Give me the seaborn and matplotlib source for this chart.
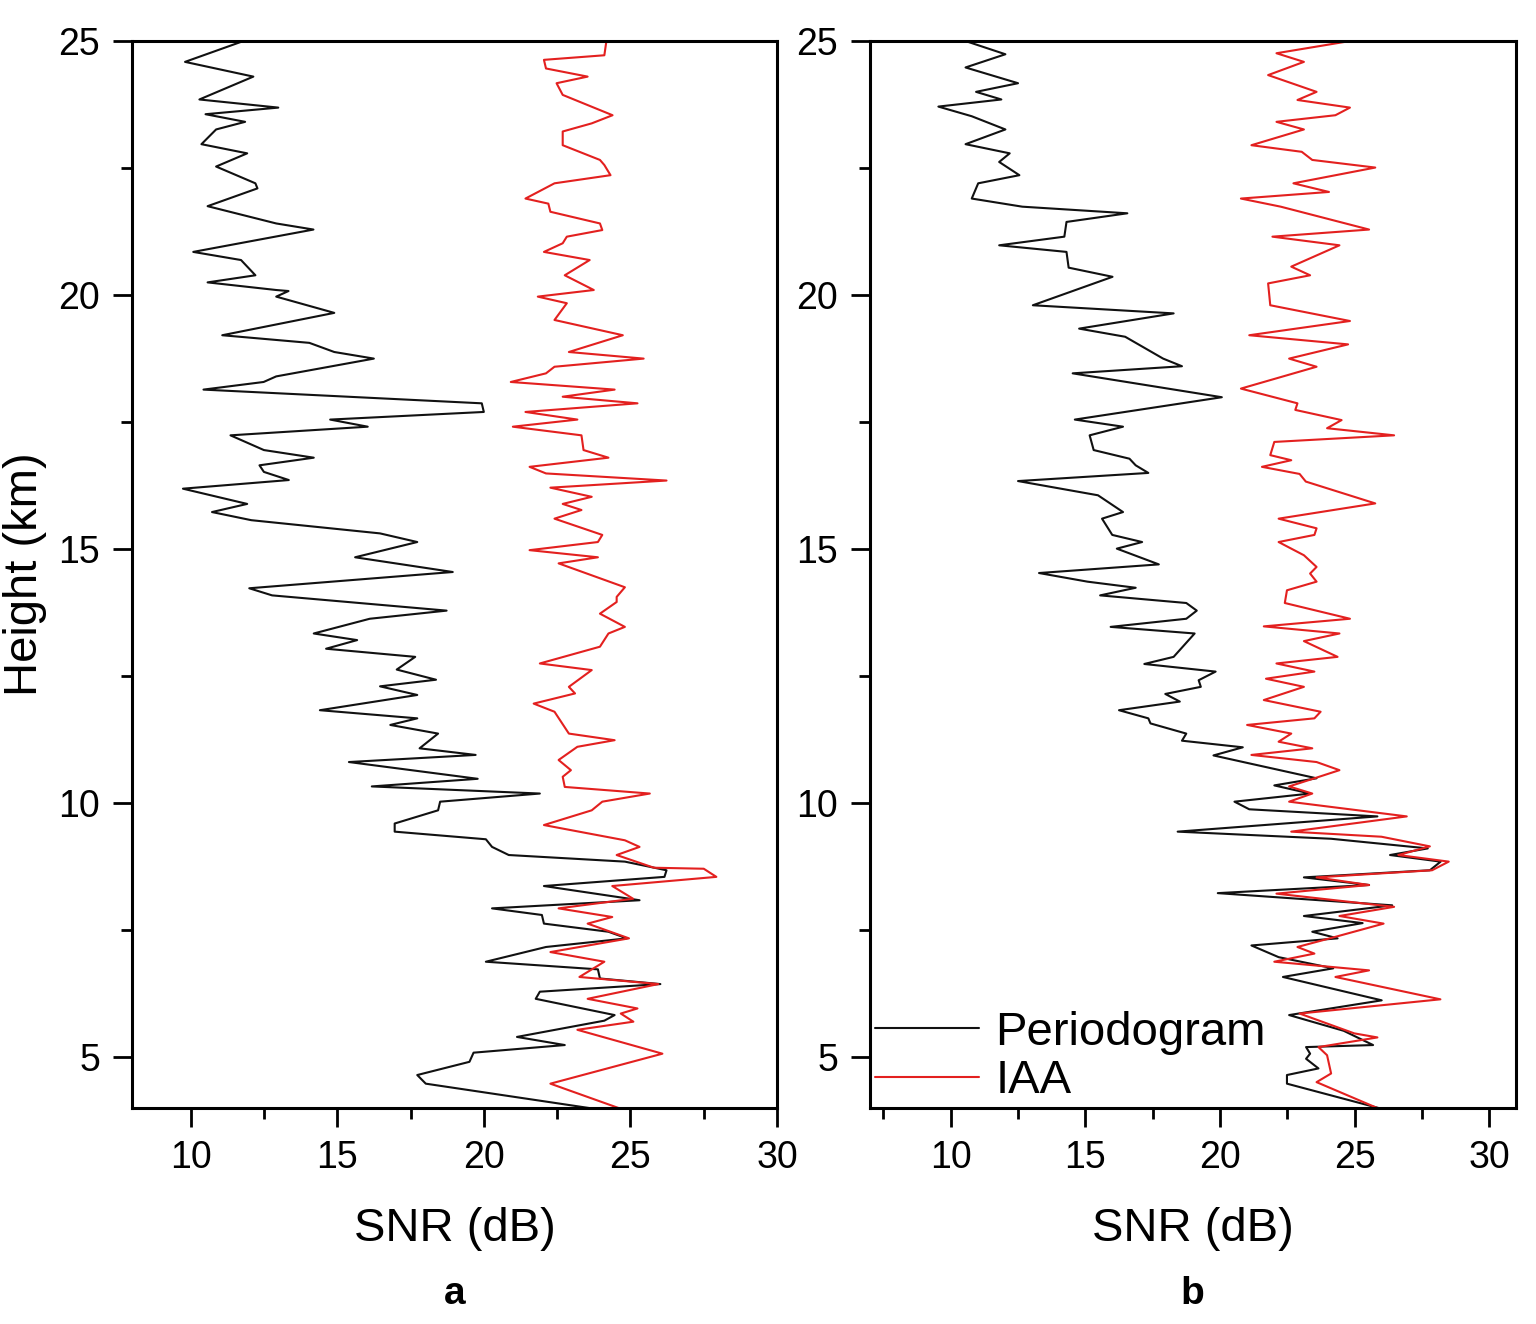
import matplotlib
matplotlib.use("Agg")
import matplotlib.pyplot as plt
from matplotlib.ticker import MultipleLocator
import pandas as pd
import seaborn as sns

# panel a, periodogram (height km, SNR dB)
a_per_h = [25.0, 24.59, 24.30, 23.85, 23.69, 23.56, 23.41, 23.26, 22.97, 22.79, 22.53, 22.20, 22.10,
           21.75, 21.41, 21.29, 20.85, 20.69, 20.39, 20.25, 20.10, 20.08, 19.97, 19.65, 19.21, 19.06,
           18.88, 18.75, 18.40, 18.29, 18.14, 17.87, 17.70, 17.55, 17.41, 17.24, 16.95, 16.80, 16.65,
           16.52, 16.36, 16.19, 15.89, 15.73, 15.57, 15.31, 15.14, 14.84, 14.55, 14.23, 14.09, 13.79,
           13.63, 13.34, 13.21, 13.04, 12.88, 12.63, 12.43, 12.30, 12.13, 11.83, 11.67, 11.54, 11.37,
           11.08, 10.95, 10.81, 10.48, 10.33, 10.19, 10.03, 9.86, 9.60, 9.44, 9.29, 9.14, 8.98, 8.85,
           8.68, 8.55, 8.37, 8.09, 7.93, 7.80, 7.63, 7.47, 7.34, 7.17, 6.88, 6.73, 6.55, 6.44, 6.29,
           6.15, 5.83, 5.72, 5.40, 5.24, 5.09, 4.91, 4.65, 4.48, 4.0]
a_per_snr = [11.8, 9.81, 12.14, 10.30, 12.99, 10.51, 11.86, 10.87, 10.37, 11.93, 10.87, 12.21, 12.28,
             10.58, 12.92, 14.19, 10.09, 11.72, 12.21, 10.58, 12.92, 13.34, 12.92, 14.90, 11.08, 14.05,
             14.90, 16.25, 12.92, 12.49, 10.44, 19.93, 20.0, 14.76, 16.04, 11.36, 12.50, 14.20, 12.35,
             12.50, 13.35, 9.74, 11.93, 10.73, 12.07, 16.46, 17.73, 15.61, 18.94, 12.0, 12.78, 18.73,
             16.11, 14.2, 15.68, 14.62, 17.66, 17.03, 18.37, 16.46, 17.73, 14.41, 17.73, 16.81, 18.44,
             17.81, 19.72, 15.4, 19.79, 16.18, 21.91, 18.51, 18.44, 16.96, 16.96, 20.07, 20.28, 20.85, 24.81,
             26.23, 26.16, 22.05, 25.31, 20.28, 21.98, 22.05, 24.25, 24.88, 22.12, 20.07, 23.89, 23.96, 26.02,
             21.91, 21.77, 24.46, 24.11, 21.13, 22.76, 19.65, 19.51, 17.73, 18.02, 23.6]

# panel a, IAA
a_iaa_h = [25.0, 24.72, 24.63, 24.46, 24.30, 24.17, 23.94, 23.54, 23.38, 23.22, 22.95, 22.66, 22.56,
           22.36, 22.20, 21.90, 21.80, 21.64, 21.41, 21.28, 21.15, 21.02, 20.85, 20.69, 20.39, 20.10,
           19.97, 19.84, 19.51, 19.21, 18.88, 18.75, 18.59, 18.46, 18.29, 18.14, 18.0, 17.87, 17.70,
           17.55, 17.41, 17.24, 16.95, 16.80, 16.62, 16.49, 16.35, 16.21, 16.03, 15.89, 15.77, 15.60,
           15.28, 15.14, 14.98, 14.84, 14.72, 14.25, 14.06, 13.96, 13.73, 13.47, 13.34, 13.08, 12.75,
           12.62, 12.29, 12.16, 11.96, 11.80, 11.37, 11.24, 11.11, 10.85, 10.65, 10.52, 10.32, 10.19,
           10.03, 9.86, 9.57, 9.27, 9.14, 8.98, 8.73, 8.71, 8.55, 8.37, 8.12, 7.93, 7.76, 7.63, 7.34,
           7.07, 6.88, 6.58, 6.44, 6.15, 5.96, 5.86, 5.70, 5.54, 5.07, 4.48, 4.0]
a_iaa_snr = [24.18, 24.11, 22.05, 22.12, 23.54, 22.48, 22.69, 24.39, 23.68, 22.69, 22.69, 23.96, 24.11,
             24.32, 22.41, 21.42, 22.20, 22.27, 23.96, 24.04, 22.83, 22.69, 22.05, 23.61, 22.76, 23.75,
             21.84, 22.83, 22.41, 24.74, 22.90, 25.45, 22.41, 22.12, 20.92, 24.46, 22.69, 25.24, 21.42,
             23.19, 20.99, 23.33, 23.40, 24.25, 21.56, 22.12, 26.23, 22.27, 23.68, 22.69, 23.33, 22.41,
             24.04, 23.89, 21.56, 23.89, 22.55, 24.81, 24.53, 24.53, 23.96, 24.81, 24.25, 23.96, 21.91,
             23.68, 22.90, 23.11, 21.70, 22.41, 22.90, 24.46, 23.19, 22.55, 22.97, 22.69, 22.76, 25.66,
             24.04, 23.68, 22.05, 24.81, 25.31, 24.53, 25.80, 27.50, 27.93, 24.38, 25.09, 22.55, 24.38,
             23.54, 24.95, 22.27, 24.11, 23.26, 25.95, 23.54, 25.24, 24.67, 25.10, 23.19, 26.09, 22.27, 24.6]

# panel b, periodogram
b_per_h = [25.0, 24.74, 24.48, 24.17, 24.00, 23.85, 23.71, 23.52, 23.26, 22.97, 22.79, 22.62, 22.36,
           22.20, 21.90, 21.74, 21.61, 21.44, 21.15, 20.98, 20.85, 20.54, 20.36, 19.80, 19.64, 19.34,
           19.18, 18.75, 18.60, 18.46, 17.99, 17.55, 17.41, 17.24, 16.95, 16.78, 16.65, 16.50, 16.34,
           16.06, 15.73, 15.60, 15.28, 15.14, 15.01, 14.70, 14.53, 14.36, 14.24, 14.09, 13.94, 13.79,
           13.63, 13.47, 13.34, 12.88, 12.74, 12.59, 12.42, 12.29, 12.15, 12.0, 11.83, 11.67, 11.57,
           11.37, 11.23, 11.10, 10.94, 10.49, 10.35, 10.19, 10.03, 9.88, 9.74, 9.44, 9.30, 9.11, 8.98,
           8.85, 8.68, 8.54, 8.39, 8.23, 7.99, 7.78, 7.64, 7.47, 7.34, 7.20, 6.97, 6.75, 6.58, 6.12,
           5.83, 5.52, 5.24, 5.20, 5.07, 4.97, 4.78, 4.65, 4.48, 4.0]
b_per_snr = [10.55, 12.03, 10.55, 12.50, 10.94, 11.88, 9.54, 10.78, 12.03, 10.55, 12.19, 11.80, 12.55,
             11.02, 10.78, 12.66, 16.56, 14.30, 14.22, 11.80, 14.30, 14.38, 16.01, 13.05, 18.28, 14.77,
             16.48, 17.89, 18.59, 14.53, 20.07, 14.61, 16.40, 15.16, 15.31, 16.64, 16.87, 17.34, 12.50,
             15.47, 16.40, 15.62, 16.0, 17.11, 16.17, 17.73, 13.28, 15.08, 16.87, 15.55, 18.75, 19.14,
             18.75, 15.94, 19.06, 18.28, 17.19, 19.84, 19.21, 19.29, 17.97, 18.51, 16.25, 17.34, 17.42,
             18.75, 18.59, 20.85, 19.76, 23.59, 22.02, 23.35, 20.54, 21.09, 25.85, 18.43, 24.13, 27.72, 26.32,
             28.2, 27.80, 23.12, 25.54, 19.92, 26.40, 23.12, 25.30, 23.43, 24.37, 21.17, 22.18, 24.21, 22.34,
             26.01, 22.57, 24.60, 25.69, 23.20, 23.35, 23.20, 23.66, 22.49, 22.49, 25.9]

# panel b, IAA
b_iaa_h = [25.0, 24.76, 24.59, 24.33, 24.00, 23.84, 23.69, 23.54, 23.41, 23.26, 22.95, 22.82, 22.66,
           22.51, 22.20, 22.03, 21.90, 21.74, 21.29, 21.15, 20.98, 20.56, 20.39, 20.23, 19.80, 19.49,
           19.21, 19.03, 18.75, 18.59, 18.16, 17.87, 17.74, 17.54, 17.38, 17.24, 17.11, 16.85, 16.75,
           16.62, 16.48, 16.33, 15.90, 15.60, 15.41, 15.28, 15.14, 14.88, 14.65, 14.52, 14.36, 14.19,
           13.94, 13.63, 13.48, 13.34, 13.19, 12.88, 12.75, 12.59, 12.45, 12.29, 12.03, 11.80, 11.67,
           11.54, 11.37, 11.21, 11.08, 10.95, 10.81, 10.65, 10.49, 10.33, 10.19, 10.03, 9.74, 9.44,
           9.34, 9.15, 8.98, 8.85, 8.68, 8.54, 8.39, 8.22, 7.96, 7.78, 7.63, 7.37, 7.17, 7.04, 6.88,
           6.71, 6.58, 6.14, 5.86, 5.47, 5.39, 5.20, 5.04, 4.68, 4.51, 4.0]
b_iaa_snr = [24.83, 22.10, 23.12, 21.79, 23.59, 22.88, 24.83, 24.29, 22.10, 23.12, 21.17, 23.04, 23.43,
             25.77, 22.73, 24.05, 20.78, 22.26, 25.54, 21.95, 24.44, 22.65, 23.35, 21.79, 21.87, 24.83,
             21.09, 24.76, 22.57, 23.59, 20.78, 22.88, 22.80, 24.52, 23.98, 26.47, 22.02, 21.87, 22.65,
             21.56, 22.96, 23.19, 25.77, 22.18, 23.59, 23.51, 22.18, 23.12, 23.59, 23.35, 23.59, 22.49,
             22.41, 24.83, 21.63, 24.44, 23.12, 24.37, 22.10, 23.51, 21.71, 23.12, 21.63, 23.74, 23.51,
             21.01, 22.65, 22.18, 23.43, 21.17, 23.59, 24.44, 23.51, 22.57, 23.43, 22.57, 26.94, 22.65,
             26.0, 27.80, 26.63, 28.50, 27.88, 23.59, 25.54, 22.10, 26.47, 24.44, 26.08, 24.29, 22.88, 23.51,
             22.02, 25.54, 24.29, 28.19, 22.96, 24.99, 25.85, 23.66, 23.98, 24.13, 23.59, 25.85]

methods = ["Periodogram", "IAA"]
colors = {"Periodogram": "#111111", "IAA": "#e3201f"}


def make_df(per_h, per_snr, iaa_h, iaa_snr):
    d1 = pd.DataFrame({"height": per_h, "snr": per_snr, "method": "Periodogram"})
    d2 = pd.DataFrame({"height": iaa_h, "snr": iaa_snr, "method": "IAA"})
    return pd.concat([d1, d2], ignore_index=True)


sns.set_theme(style="ticks")
plt.rcParams["font.family"] = ["Liberation Sans", "DejaVu Sans"]
plt.rcParams["text.color"] = "black"
plt.rcParams["axes.labelcolor"] = "black"
plt.rcParams["xtick.color"] = "black"
plt.rcParams["ytick.color"] = "black"
plt.rcParams["axes.edgecolor"] = "black"

fig = plt.figure(figsize=(15.36, 13.24), dpi=100)
ax_a = fig.add_axes([0.0859, 0.1631, 0.4200, 0.8059])
ax_b = fig.add_axes([0.5664, 0.1631, 0.4206, 0.8059])

panels = [
    (ax_a, make_df(a_per_h, a_per_snr, a_iaa_h, a_iaa_snr), (8, 30), "a"),
    (ax_b, make_df(b_per_h, b_per_snr, b_iaa_h, b_iaa_snr), (7, 31), "b"),
]

for ax, df, xlim, tag in panels:
    sns.lineplot(data=df, x="snr", y="height", hue="method", hue_order=methods,
                 palette=colors, sort=False, estimator=None, orient="y",
                 linewidth=1.5, ax=ax, legend=(tag == "b"))
    ax.set_xlim(*xlim)
    ax.set_ylim(4, 25)
    ax.xaxis.set_major_locator(MultipleLocator(5))
    ax.xaxis.set_minor_locator(MultipleLocator(2.5))
    ax.yaxis.set_major_locator(MultipleLocator(5))
    ax.yaxis.set_minor_locator(MultipleLocator(2.5))
    ax.tick_params(which="major", direction="out", length=14, width=2, labelsize=27, pad=9,
                   colors="black")
    ax.tick_params(which="minor", direction="out", length=8, width=2, colors="black")
    for sp in ax.spines.values():
        sp.set_linewidth(2.2)
        sp.set_color("black")
    ax.set_xlabel("SNR (dB)", fontsize=34, labelpad=22, color="black")
    ax.set_ylabel("")
    ax.grid(False)

ax_a.set_ylabel("Height (km)", fontsize=34, labelpad=8, color="black")

handles, labels = ax_b.get_legend_handles_labels()
leg = ax_b.legend(handles, labels, loc="lower left", frameon=False, fontsize=34,
                  handlelength=2.2, handletextpad=0.35, labelspacing=0.1,
                  borderaxespad=0.1, borderpad=0.0)
for line in leg.get_lines():
    line.set_linewidth(1.5)
for txt in leg.get_texts():
    txt.set_color("black")

fig.text(0.296, 0.023, "a", fontsize=28, fontweight="bold", ha="center", va="center", color="black")
fig.text(0.776, 0.023, "b", fontsize=28, fontweight="bold", ha="center", va="center", color="black")

fig.savefig("out.png", dpi=100)
